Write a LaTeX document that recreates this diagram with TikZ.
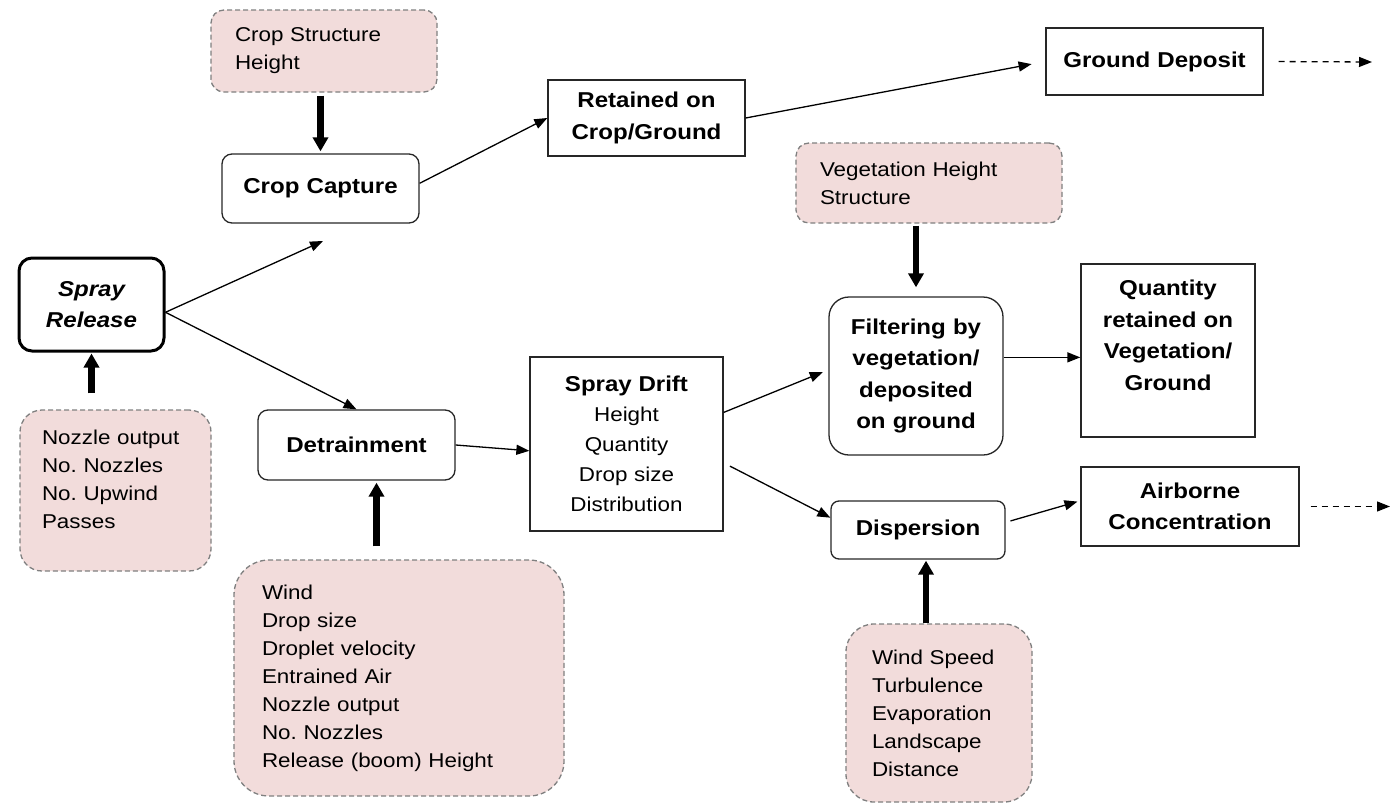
\documentclass[tikz,border=0pt]{standalone}
\usepackage{fontspec}
\setmainfont{Liberation Sans}[FakeStretch=1.12]
\usepackage{xcolor}
\usetikzlibrary{
  arrows.meta
}
\frenchspacing
\definecolor{pinkfill}{HTML}{F2DCDB}
\tikzset{
  >=Triangle,
  box/.style = {
    draw=black!85, line width=1.3pt, align=center, inner xsep=6pt, inner ysep=0pt,
    font=\bfseries\fontsize{21.5}{31.5}\selectfont
  },
  rbox/.style = {
    box, rounded corners=10pt
  },
  inp/.style = {
    draw=black!50, fill=pinkfill, line width=1.3pt, dash pattern=on 5pt off 3pt,
    rounded corners=13pt, align=left, inner xsep=24pt, inner ysep=0pt,
    font=\fontsize{20}{28}\selectfont
  },
  ln/.style = {
    ->, line width=1.3pt, >={Triangle[length=13pt, width=10pt]}
  },
  fat/.style = {
    ->, line width=6.5pt, >={Triangle[length=14pt, width=15pt]}
  },
  dsh/.style = {
    ln, dash pattern=on 6pt off 5pt
  }
}

\begin{document}
\begin{tikzpicture}[x=1pt, y=-1pt]
  \useasboundingbox (0,0) rectangle (1392,803);
  % inputs
  \path
    (324,51) node [inp, text width=178pt, minimum height=82pt] (cs) {Crop Structure\\Height}
    (929,183) node [inp, text width=218pt, minimum height=80pt] (vh) {Vegetation Height\\Structure}
    (115.5,490.5) node [inp, inner xsep=22pt, text width=147pt, minimum height=161pt,
      rounded corners=22pt, text depth=106pt] (nz) {Nozzle output\\No. Nozzles\\No. Upwind\\Passes}
    (399,678) node [inp, inner xsep=28pt, text width=274pt, minimum height=236pt,
      rounded corners=35pt] (wd) {Wind\\Drop size\\Droplet velocity\\Entrained Air\\Nozzle output\\No. Nozzles\\Release (boom) Height}
    (939,713) node [inp, inner xsep=26pt, text width=134pt, minimum height=178pt,
      rounded corners=28pt] (ws) {Wind Speed\\Turbulence\\Evaporation\\Landscape\\Distance};
  % process boxes
  \path
    (91.5,304.5) node [rbox, line width=3pt, draw=black, rounded corners=13pt, text width=133pt,
      minimum height=93pt, font=\bfseries\itshape\fontsize{21.5}{31.5}\selectfont] (sr) {Spray\\Release}
    (320.5,188.5) node [rbox, text width=185pt, minimum height=69pt] (cc) {Crop Capture}
    (646.5,118) node [box, text width=185pt, minimum height=76pt] (rt) {Retained on\\Crop/Ground}
    (1154.5,61.5) node [box, text width=205pt, minimum height=67pt] (gd) {Ground Deposit}
    (356.5,445) node [rbox, text width=185pt, minimum height=70pt] (dt) {Detrainment}
    (626.5,444) node [box, text width=181pt, minimum height=174pt,
      font=\fontsize{20}{30}\selectfont] (sd) {\textbf{\fontsize{21.5}{31.5}\selectfont Spray Drift}\\Height\\Quantity\\Drop size\\Distribution}
    (916,376) node [rbox, rounded corners=20pt, text width=162pt, minimum height=158pt] (fl) {Filtering by\\vegetation/\\deposited\\on ground}
    (1168,350.5) node [box, text width=162pt, minimum height=173pt, text depth=125pt] (qr) {Quantity\\retained on\\Vegetation/\\Ground}
    (918,530) node [rbox, rounded corners=8pt, text width=162pt, minimum height=58pt] (dp) {Dispersion}
    (1190,506.5) node [box, text width=206pt, minimum height=79pt] (ac) {Airborne\\Concentration};
  % free ends
  \path
    (323,241) coordinate (ccin)
    (1372,62) coordinate (gdout)
    (1390,506.5) coordinate (acout)
    ([xshift=20pt]dt.south) coordinate (dtin)
    ([xshift=8pt]dp.south) coordinate (dpin);
  % thick input arrows
  \path
    (cc.north |- cs.south) edge [fat, shorten <=3pt, shorten >=2pt] (cc.north)
    (sr.south |- nz.north) edge [fat, shorten <=16pt, shorten >=1pt] (sr.south)
    (dtin |- wd.north) edge [fat, shorten <=13pt, shorten >=2pt] (dtin)
    (fl.north |- vh.south) edge [fat, shorten <=2pt, shorten >=9pt] (fl.north)
    (dpin |- ws.north) edge [fat, shorten >=1pt] (dpin);
  % flow
  \path
    (sr.-6) edge [ln] (ccin)
    (sr.-6) edge [ln] (dt.north)
    (cc.3) edge [ln] (rt.west)
    (rt.east) edge [ln, shorten >=14pt] (gd.west)
    (gd.east) edge [dsh, shorten <=15pt] (gdout)
    (dt.east) edge [ln] (sd.184)
    (sd.18) edge [ln, shorten >=6pt] (fl.176)
    (sd.-11) edge [ln, shorten <=7pt] (dp.172)
    (fl.12) edge [ln] (fl.12 -| qr.west)
    (dp.5) edge [ln, shorten <=5pt, shorten >=3pt] (ac.177)
    (ac.east) edge [dsh, shorten <=11pt] (acout);
\end{tikzpicture}
\end{document}
